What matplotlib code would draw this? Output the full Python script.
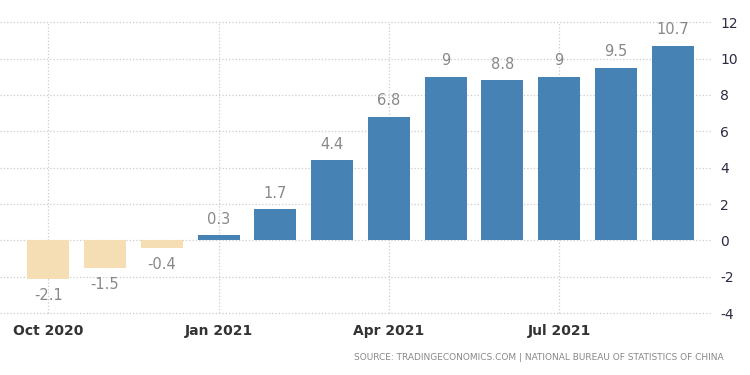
import numpy as np
import matplotlib.pyplot as plt

# China industrial producer prices YoY, Oct 2020 - Sep 2021
months = ['Oct 2020', 'Nov 2020', 'Dec 2020', 'Jan 2021', 'Feb 2021', 'Mar 2021',
          'Apr 2021', 'May 2021', 'Jun 2021', 'Jul 2021', 'Aug 2021', 'Sep 2021']
values = [-2.1, -1.5, -0.4, 0.3, 1.7, 4.4, 6.8, 9, 8.8, 9, 9.5, 10.7]
value_labels = ['-2.1', '-1.5', '-0.4', '0.3', '1.7', '4.4', '6.8', '9', '8.8', '9', '9.5', '10.7']
tick_idx = [0, 3, 6, 9]
yticks = [-4, -2, 0, 2, 4, 6, 8, 10, 12]

fig = plt.figure(figsize=(7.5, 3.75), dpi=100)
ax = fig.add_axes([0.0, 0.165, 0.949, 0.776])

x = np.arange(len(values))
colors = ['#4682b4' if v >= 0 else '#f5deb3' for v in values]
ax.bar(x, values, width=0.74, color=colors, zorder=3)

for xi, v, lab in zip(x, values, value_labels):
    if v >= 0:
        ax.annotate(lab, (xi, v), xytext=(0, 6), textcoords='offset points',
                    ha='center', va='bottom', fontsize=10.5, color='#888888')
    else:
        ax.annotate(lab, (xi, v), xytext=(0, -7), textcoords='offset points',
                    ha='center', va='top', fontsize=10.5, color='#888888')

ax.set_xlim(-0.85, 11.69)
ax.set_ylim(-4, 12)
ax.set_yticks(yticks)
ax.set_yticklabels([str(t) for t in yticks])
ax.set_xticks(tick_idx)
ax.set_xticklabels([months[i] for i in tick_idx])

ax.yaxis.tick_right()
ax.tick_params(axis='y', length=0, pad=6, labelsize=10, colors='#2b2b44')
ax.tick_params(axis='x', length=0, pad=8, labelsize=10, colors='#333333')
for lab in ax.get_xticklabels():
    lab.set_fontweight('bold')

ax.grid(True, linestyle=':', color='#cccccc', linewidth=0.9, zorder=0)
for line in ax.get_ygridlines() + ax.get_xgridlines():
    line.set_clip_on(False)
for s in ax.spines.values():
    s.set_visible(False)

fig.text(0.965, 0.048, 'SOURCE: TRADINGECONOMICS.COM | NATIONAL BUREAU OF STATISTICS OF CHINA',
         ha='right', va='center', fontsize=6.5, color='#888888')

fig.savefig('out.png', dpi=100)
